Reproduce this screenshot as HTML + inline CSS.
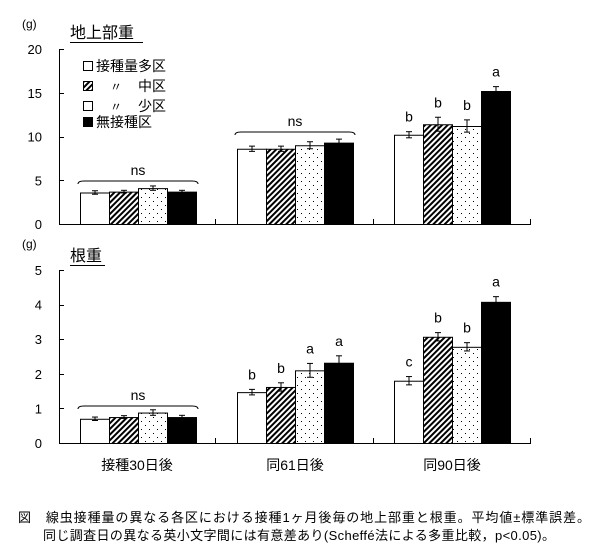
<!DOCTYPE html>
<html><head><meta charset="utf-8"><style>
html,body{margin:0;padding:0;background:#fff;}
svg{display:block;font-family:"Liberation Sans","Noto Sans CJK JP",sans-serif;}
</style></head><body>
<svg id="s" width="607" height="559" viewBox="0 0 607 559" xmlns="http://www.w3.org/2000/svg">
<defs>
<pattern id="h" patternUnits="userSpaceOnUse" width="4" height="4" patternTransform="rotate(45)">
<rect width="4" height="4" fill="#fff"/><rect width="2" height="4" fill="#000"/></pattern>
<pattern id="d" patternUnits="userSpaceOnUse" width="8" height="8">
<rect width="8" height="8" fill="#fff"/><rect x="1" y="1" width="1" height="1" fill="#000"/><rect x="5" y="5" width="1" height="1" fill="#000"/></pattern>
</defs>
<g id="g"></g>
</svg>
<script>
var g=document.getElementById('g'),o='';
function T(x,y,s,sz,a,extra){o+='<text x="'+x+'" y="'+y+'" font-size="'+(sz||13)+'" text-anchor="'+(a||'start')+'" '+(extra||'')+'>'+s+'</text>';}
function L(x1,y1,x2,y2){o+='<line x1="'+x1+'" y1="'+y1+'" x2="'+x2+'" y2="'+y2+'" stroke="#000" stroke-width="1"/>';}
var fills=['#fff','url(#h)','url(#d)','#000'];
var starts=[80,237,394],bw=29;
function chart(y0,scale,ymax,step,vals,errs,labels,nsList){
  var ytop=y0-ymax*scale;
  L(59.5,ytop,59.5,y0+0.5);L(59,y0+0.5,531,y0+0.5);
  for(var v=0;v<=ymax;v+=step){var y=y0-v*scale;L(59,Math.round(y)+0.5,64,Math.round(y)+0.5);T(42,y+5,v,13,'end');}
  [215.5,373.5,530.5].forEach(function(x){L(x,y0-5,x,y0);});
  for(var gi=0;gi<3;gi++)for(var b=0;b<4;b++){
    var x=starts[gi]+b*bw,v=vals[gi][b],h=v*scale,y=y0-h;
    o+='<rect x="'+(x+0.5)+'" y="'+(y+0.5)+'" width="'+bw+'" height="'+h+'" fill="'+fills[b]+'" stroke="#000" stroke-width="1"/>';
    var cx=x+bw/2+0.5,e=errs[gi][b]*scale;
    L(cx,y-e,cx,y+e);L(cx-3,y-e,cx+3,y-e);L(cx-3,y+e,cx+3,y+e);
    if(labels&&labels[gi])T(cx,y-e-10,labels[gi][b],14,'middle');
  }
  nsList.forEach(function(n){var gi=n[0],yy=n[1],x1=starts[gi]-2,x2=starts[gi]+4*bw+2;
    o+='<path d="M'+x1+' '+(yy+3)+' Q'+x1+' '+yy+' '+(x1+6)+' '+yy+' L'+(x2-6)+' '+yy+' Q'+x2+' '+yy+' '+x2+' '+(yy+3)+'" fill="none" stroke="#000"/>';
    T((x1+x2)/2,yy-6,'ns',14,'middle');});
}
T(22,28,'(g)',12);
T(70,38,'地上部重',16,'start');
L(70,42.5,143,42.5);
chart(224,8.75,20,5,[[3.6,3.7,4.1,3.7],[8.6,8.6,9.0,9.3],[10.2,11.4,11.2,15.2]],
 [[0.2,0.15,0.25,0.15],[0.3,0.3,0.4,0.4],[0.35,0.8,0.7,0.5]],
 [null,null,['b','b','b','a']],[[0,181],[1,132]]);
o+='<rect x="83.5" y="61.5" width="9" height="9" fill="#fff" stroke="#000"/>';T(96,71,'接種量多区',14);
o+='<rect x="83.5" y="81.5" width="9" height="9" fill="url(#h)" stroke="#000"/>';T(110,91,'〃',12);T(138,91,'中区',14);
o+='<rect x="83.5" y="101.5" width="9" height="9" fill="#fff" stroke="#000"/>';T(110,111,'〃',12);T(138,111,'少区',14);
o+='<rect x="83.5" y="117.5" width="9" height="9" fill="#000" stroke="#000"/>';T(96,127,'無接種区',14);
T(22,248,'(g)',12);
T(70,261,'根重',16,'start');
L(70,265.5,105,265.5);
chart(443,34.6,5,1,[[0.7,0.75,0.88,0.75],[1.47,1.62,2.1,2.32],[1.8,3.07,2.78,4.08]],
 [[0.05,0.04,0.08,0.05],[0.08,0.12,0.2,0.2],[0.12,0.12,0.12,0.15]],
 [null,['b','b','a','a'],['c','b','b','a']],[[0,406]]);
T(137,470,'接種30日後',14,'middle');T(295,470,'同61日後',14,'middle');T(452,470,'同90日後',14,'middle');
T(18,522,'図　線虫接種量の異なる各区における接種1ヶ月後毎の地上部重と根重。平均値±標準誤差。',13,'start','textLength="572"');
T(43,540,'同じ調査日の異なる英小文字間には有意差あり(Scheffé法による多重比較，p&lt;0.05)。',13,'start','textLength="512"');
g.innerHTML=o;
</script>
</body></html>
